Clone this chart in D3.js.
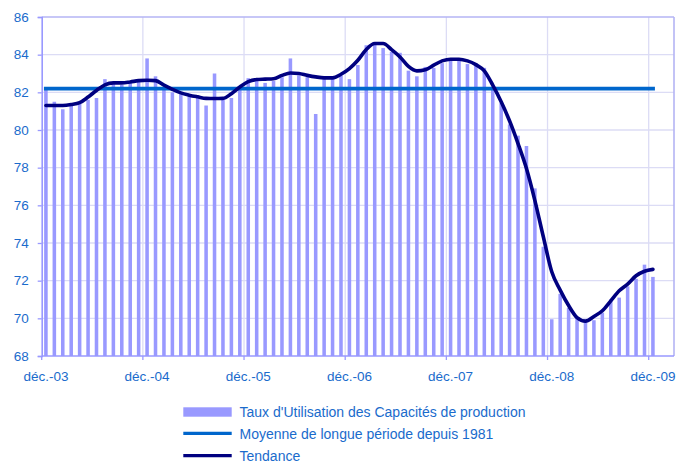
<!DOCTYPE html>
<html>
<head>
<meta charset="utf-8">
<script src="https://cdn.jsdelivr.net/npm/d3@7"></script>
<style>
  html, body { margin: 0; padding: 0; background: #fff; }
  svg { display: block; font-family: Arial, "Liberation Sans", sans-serif; }
</style>
</head>
<body>
<svg id="chart" width="691" height="464"></svg>
<script>
// ---- Data ----
const months = [
  "déc.-03","janv.-04","févr.-04","mars-04","avr.-04","mai-04","juin-04","juil.-04","août-04","sept.-04","oct.-04","nov.-04",
  "déc.-04","janv.-05","févr.-05","mars-05","avr.-05","mai-05","juin-05","juil.-05","août-05","sept.-05","oct.-05","nov.-05",
  "déc.-05","janv.-06","févr.-06","mars-06","avr.-06","mai-06","juin-06","juil.-06","août-06","sept.-06","oct.-06","nov.-06",
  "déc.-06","janv.-07","févr.-07","mars-07","avr.-07","mai-07","juin-07","juil.-07","août-07","sept.-07","oct.-07","nov.-07",
  "déc.-07","janv.-08","févr.-08","mars-08","avr.-08","mai-08","juin-08","juil.-08","août-08","sept.-08","oct.-08","nov.-08",
  "déc.-08","janv.-09","févr.-09","mars-09","avr.-09","mai-09","juin-09","juil.-09","août-09","sept.-09","oct.-09","nov.-09",
  "déc.-09"
];
// axis continues two empty months after the last observation
const extraMonths = ["janv.-10","févr.-10"];

const tuc = [
  82.2, 81.5, 81.1, 81.3, 81.4, 81.6, 81.7, 82.7, 82.5, 82.4, 82.5, 82.6,
  83.8, 82.85, 82.2, 82.0, 81.9, 81.8, 81.7, 81.3, 83.0, 81.7, 81.7, 82.15,
  82.75, 82.6, 82.5, 82.6, 82.8, 83.8, 82.9, 82.8, 80.85, 82.7, 82.75, 82.9,
  82.7, 83.45, 84.5, 84.6, 84.35, 84.15, 84.1, 83.15, 82.85, 83.35, 83.3, 83.55,
  83.75, 83.7, 83.5, 83.45, 83.3, 82.3, 81.45, 80.3, 79.7, 79.15, 76.9, 73.8,
  69.95, 71.3, 70.55, 70.0, 69.9, 69.9, 70.3, 71.0, 71.1, 71.7, 72.1, 72.85,
  72.2
];

const tendance = [
  81.3, 81.3, 81.3, 81.35, 81.45, 81.75, 82.1, 82.4, 82.5, 82.5, 82.55, 82.62,
  82.64, 82.62, 82.38, 82.16, 81.97, 81.85, 81.76, 81.68, 81.67, 81.68, 81.93, 82.28,
  82.57, 82.68, 82.7, 82.72, 82.9, 83.03, 83.0, 82.9, 82.82, 82.77, 82.77, 82.96,
  83.26, 83.7, 84.27, 84.59, 84.59, 84.27, 83.88, 83.38, 83.14, 83.2, 83.44, 83.67,
  83.76, 83.76, 83.67, 83.47, 83.14, 82.38, 81.5, 80.48, 79.28, 77.95, 76.25, 74.33,
  72.47, 71.5, 70.68, 70.04, 69.85, 70.1, 70.4, 70.93, 71.46, 71.82, 72.26, 72.5,
  72.6
];

const moyenneLongue = 82.2;

const xTickLabels = ["déc.-03","déc.-04","déc.-05","déc.-06","déc.-07","déc.-08","déc.-09"];
const yTicks = [68, 70, 72, 74, 76, 78, 80, 82, 84, 86];

const legendLabels = [
  "Taux d'Utilisation des Capacités de production",
  "Moyenne de longue période depuis 1981",
  "Tendance"
];

// ---- Layout / style ----
const plot = { left: 41.7, right: 674, top: 17, bottom: 356 };
const colBar = "#9999FF";
const colAvg = "#0066CC";
const colTrend = "#000080";
const colText = "#1A6BCC";
const colGrid = "#DCDCF5";
const colAxis = "#9999FF";
const fontSize = 13.5;
const legendFontSize = 14;

const svg = d3.select("#chart");

const xb = d3.scaleBand()
  .domain(months.concat(extraMonths))
  .range([plot.left, plot.right]);

const y = d3.scaleLinear().domain([68, 86]).range([plot.bottom, plot.top]);

const cx = m => xb(m) + xb.bandwidth() / 2;
const barW = xb.bandwidth() * 0.42;

// horizontal gridlines
svg.append("g").selectAll("line").data(yTicks.filter(t => t > 68 && t < 86)).join("line")
  .attr("x1", plot.left).attr("x2", plot.right)
  .attr("y1", d => y(d)).attr("y2", d => y(d))
  .attr("stroke", colGrid).attr("stroke-width", 1.3);

// vertical gridlines at december boundaries
svg.append("g").selectAll("line").data(xTickLabels.slice(1)).join("line")
  .attr("x1", d => xb(d)).attr("x2", d => xb(d))
  .attr("y1", plot.top).attr("y2", plot.bottom)
  .attr("stroke", colGrid).attr("stroke-width", 1.3);

// bars
svg.append("g").selectAll("rect").data(tuc).join("rect")
  .attr("x", (d, i) => cx(months[i]) - barW / 2)
  .attr("width", barW)
  .attr("y", d => y(d))
  .attr("height", d => y(68) - y(d))
  .attr("fill", colBar);

// plot border top & right
svg.append("line").attr("x1", plot.left).attr("x2", plot.right)
  .attr("y1", plot.top).attr("y2", plot.top)
  .attr("stroke", "#B4B4F4").attr("stroke-width", 1.6);
svg.append("line").attr("x1", plot.right).attr("x2", plot.right)
  .attr("y1", plot.top).attr("y2", plot.bottom)
  .attr("stroke", "#B4B4F4").attr("stroke-width", 1.6);

// average line
svg.append("line")
  .attr("x1", cx(months[0]) - 2).attr("x2", cx(months[months.length - 1]) + 2)
  .attr("y1", y(moyenneLongue)).attr("y2", y(moyenneLongue))
  .attr("stroke", colAvg).attr("stroke-width", 3.8);

// trend line
const line = d3.line()
  .x((d, i) => cx(months[i]))
  .y(d => y(d))
  .curve(d3.curveMonotoneX);
svg.append("path").datum(tendance)
  .attr("d", line)
  .attr("fill", "none")
  .attr("stroke", colTrend)
  .attr("stroke-width", 3.6)
  .attr("stroke-linejoin", "round")
  .attr("stroke-linecap", "round");

// y axis
const yAxis = d3.axisLeft(y).tickValues(yTicks).tickSize(4).tickPadding(9).tickFormat(d3.format("d"));
const gy = svg.append("g").attr("transform", `translate(${plot.left},0)`).call(yAxis);
gy.select(".domain").attr("stroke", colAxis).attr("stroke-width", 1.6);
gy.selectAll(".tick line").attr("stroke", colAxis).attr("stroke-width", 1.3);
gy.selectAll(".tick text").attr("fill", colText).style("font-size", fontSize + "px")
  .style("font-family", "Arial, 'Liberation Sans', sans-serif");

// x axis: ticks at december boundaries, labels at december centers
const gx = svg.append("g");
gx.append("line").attr("x1", plot.left).attr("x2", plot.right)
  .attr("y1", plot.bottom).attr("y2", plot.bottom)
  .attr("stroke", colAxis).attr("stroke-width", 1.6);
gx.selectAll("line.tk").data(xTickLabels).join("line").attr("class", "tk")
  .attr("x1", d => xb(d)).attr("x2", d => xb(d))
  .attr("y1", plot.bottom).attr("y2", plot.bottom + 4)
  .attr("stroke", colAxis).attr("stroke-width", 1.3);
gx.selectAll("text").data(xTickLabels).join("text")
  .attr("x", d => cx(d))
  .attr("y", 381)
  .attr("text-anchor", "middle")
  .attr("fill", colText)
  .style("font-size", fontSize + "px")
  .text(d => d);

// legend
const lg = svg.append("g");
const lx0 = 183.3, lx1 = 231.7, tx = 239.5;
const rows = [416.5, 438.5, 460.5];
lg.append("rect").attr("x", lx0).attr("y", 407.3).attr("width", lx1 - lx0).attr("height", 9.4).attr("fill", colBar);
lg.append("line").attr("x1", lx0).attr("x2", lx1).attr("y1", 433.4).attr("y2", 433.4)
  .attr("stroke", colAvg).attr("stroke-width", 3.4);
lg.append("line").attr("x1", lx0).attr("x2", lx1).attr("y1", 455.6).attr("y2", 455.6)
  .attr("stroke", colTrend).attr("stroke-width", 3.4);
lg.selectAll("text").data(legendLabels).join("text")
  .attr("x", tx)
  .attr("y", (d, i) => rows[i])
  .attr("fill", colText)
  .style("font-size", legendFontSize + "px")
  .text(d => d);
</script>
</body>
</html>
